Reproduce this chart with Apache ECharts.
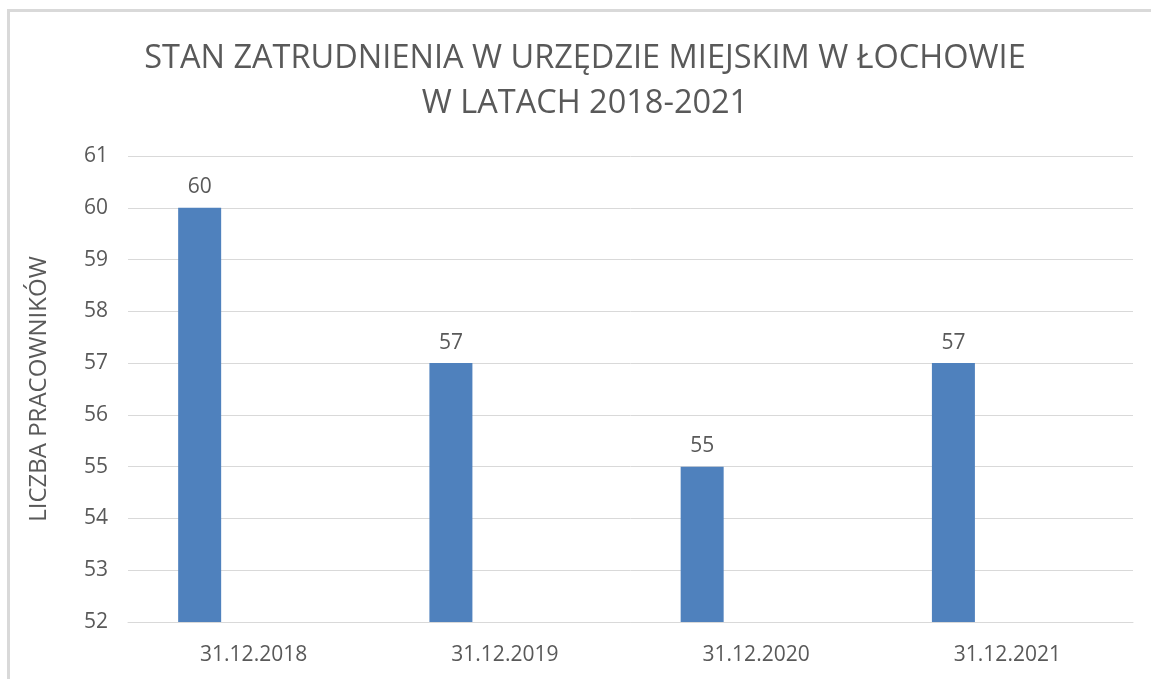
<!DOCTYPE html>
<html>
<head>
<meta charset="utf-8">
<script src="https://cdn.jsdelivr.net/npm/echarts@6/dist/echarts.min.js"></script>
<style>
  html, body { margin: 0; padding: 0; background: #fff; }
  #frame {
    position: absolute; left: 7px; top: 9px; width: 1160px; height: 700px;
    border-top: 3px solid #d9d9d9; border-left: 3px solid #d9d9d9;
  }
  #chart { position: absolute; left: 0; top: 0; width: 1151px; height: 679px; }
</style>
</head>
<body>
<div id="frame"></div>
<div id="chart"></div>
<script>
// dane z wykresu
const categories = ['31.12.2018', '31.12.2019', '31.12.2020', '31.12.2021'];
const employees = [60, 57, 55, 57];
const emptySeries = [null, null, null, null]; // druga seria w Excelu jest pusta
const titleText = 'STAN ZATRUDNIENIA W URZĘDZIE MIEJSKIM W ŁOCHOWIE\nW LATACH 2018-2021';
const yName = 'LICZBA PRACOWNIKÓW';

const chart = echarts.init(document.getElementById('chart'));

const option = {
  animation: false,
  textStyle: { fontFamily: 'Open Sans' },
  title: {
    text: titleText,
    left: 580,
    textAlign: 'center',
    top: 31,
    textStyle: {
      color: '#595959',
      fontSize: 32.5,
      fontWeight: 'normal',
      lineHeight: 45,
      fontFamily: 'Open Sans'
    }
  },
  grid: {
    left: 128,
    right: 18,
    top: 156,
    bottom: 57
  },
  xAxis: {
    type: 'category',
    data: categories,
    axisTick: { show: false },
    axisLine: { lineStyle: { color: '#d9d9d9', width: 1 } },
    axisLabel: { color: '#595959', fontSize: 21, margin: 23 }
  },
  yAxis: {
    type: 'value',
    min: 52,
    max: 61,
    interval: 1,
    name: yName,
    nameLocation: 'middle',
    nameGap: 77,
    nameTextStyle: { color: '#595959', fontSize: 24 },
    axisLine: { show: false },
    axisTick: { show: false },
    axisLabel: { color: '#595959', fontSize: 21, margin: 20 },
    splitLine: { lineStyle: { color: '#d9d9d9', width: 1 } }
  },
  series: [
    {
      name: 'Liczba pracowników',
      type: 'bar',
      data: employees,
      barWidth: 43,
      barGap: '151%',
      itemStyle: { color: '#4f81bd' },
      label: {
        show: true,
        position: 'top',
        distance: 10,
        color: '#595959',
        fontSize: 21
      }
    },
    {
      name: 'Seria 2',
      type: 'bar',
      data: emptySeries,
      barWidth: 43,
      itemStyle: { color: '#c0504d' }
    }
  ]
};

chart.setOption(option);
window.addEventListener('resize', () => chart.resize());
</script>
</body>
</html>
